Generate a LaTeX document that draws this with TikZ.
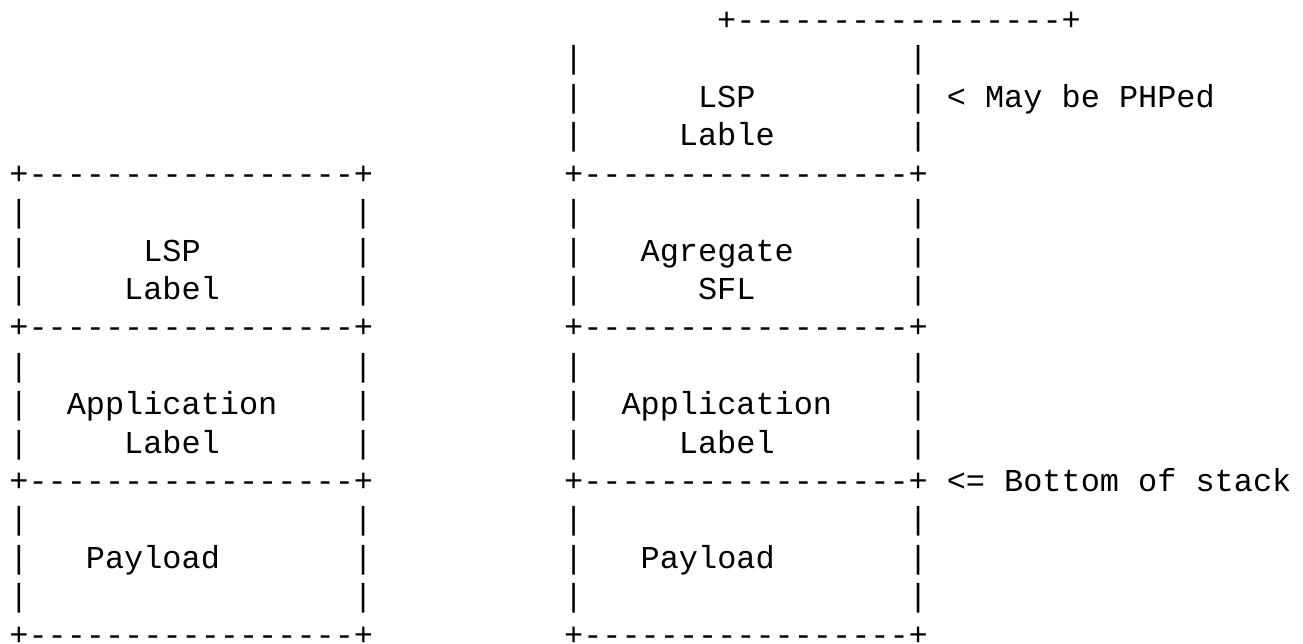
\documentclass[tikz,border=0pt]{standalone}
\usepackage{fontspec}
\newfontfamily\asciifont{Liberation Mono}[Ligatures=TeXOff]
\newcommand\ascol[1]{(9.4+#1*19.13)}
\tikzset{
  asc/.style={anchor=base west, inner sep=0pt, outer sep=0pt,
    font=\asciifont\fontsize{31.9}{38.42}\selectfont, text=black},
}
\newcommand\ascline[4]{\node[asc] (#1) at ({9.4+#2*19.13},{-(30.5+(#3-1)*38.42)}) {#4};}
\begin{document}
\begin{tikzpicture}[x=1pt,y=1pt]
\useasboundingbox (0,0) rectangle (1303,-644);
% row 1
\ascline{top}{37}{1}{+-----------------+}
% row 2
\ascline{r2a}{29}{2}{|}
\ascline{r2b}{47}{2}{|}
% row 3
\ascline{r3a}{29}{3}{|}
\ascline{lspR}{36}{3}{LSP}
\ascline{r3b}{47}{3}{|}
\ascline{phped}{49}{3}{< May be PHPed}
% row 4
\ascline{r4a}{29}{4}{|}
\ascline{lable}{35}{4}{Lable}
\ascline{r4b}{47}{4}{|}
% row 5
\ascline{l5}{0}{5}{+-----------------+}
\ascline{r5}{29}{5}{+-----------------+}
% row 6
\ascline{l6a}{0}{6}{|}
\ascline{l6b}{18}{6}{|}
\ascline{r6a}{29}{6}{|}
\ascline{r6b}{47}{6}{|}
% row 7
\ascline{l7a}{0}{7}{|}
\ascline{lspL}{7}{7}{LSP}
\ascline{l7b}{18}{7}{|}
\ascline{r7a}{29}{7}{|}
\ascline{agg}{33}{7}{Agregate}
\ascline{r7b}{47}{7}{|}
% row 8
\ascline{l8a}{0}{8}{|}
\ascline{labelL}{6}{8}{Label}
\ascline{l8b}{18}{8}{|}
\ascline{r8a}{29}{8}{|}
\ascline{sfl}{36}{8}{SFL}
\ascline{r8b}{47}{8}{|}
% row 9
\ascline{l9}{0}{9}{+-----------------+}
\ascline{r9}{29}{9}{+-----------------+}
% row 10
\ascline{l10a}{0}{10}{|}
\ascline{l10b}{18}{10}{|}
\ascline{r10a}{29}{10}{|}
\ascline{r10b}{47}{10}{|}
% row 11
\ascline{l11a}{0}{11}{|}
\ascline{appL}{3}{11}{Application}
\ascline{l11b}{18}{11}{|}
\ascline{r11a}{29}{11}{|}
\ascline{appR}{32}{11}{Application}
\ascline{r11b}{47}{11}{|}
% row 12
\ascline{l12a}{0}{12}{|}
\ascline{alabL}{6}{12}{Label}
\ascline{l12b}{18}{12}{|}
\ascline{r12a}{29}{12}{|}
\ascline{alabR}{35}{12}{Label}
\ascline{r12b}{47}{12}{|}
% row 13
\ascline{l13}{0}{13}{+-----------------+}
\ascline{r13}{29}{13}{+-----------------+}
\ascline{bottom}{49}{13}{<= Bottom of stack}
% row 14
\ascline{l14a}{0}{14}{|}
\ascline{l14b}{18}{14}{|}
\ascline{r14a}{29}{14}{|}
\ascline{r14b}{47}{14}{|}
% row 15
\ascline{l15a}{0}{15}{|}
\ascline{payL}{4}{15}{Payload}
\ascline{l15b}{18}{15}{|}
\ascline{r15a}{29}{15}{|}
\ascline{payR}{33}{15}{Payload}
\ascline{r15b}{47}{15}{|}
% row 16
\ascline{l16a}{0}{16}{|}
\ascline{l16b}{18}{16}{|}
\ascline{r16a}{29}{16}{|}
\ascline{r16b}{47}{16}{|}
% row 17
\ascline{l17}{0}{17}{+-----------------+}
\ascline{r17}{29}{17}{+-----------------+}
\end{tikzpicture}
\end{document}
